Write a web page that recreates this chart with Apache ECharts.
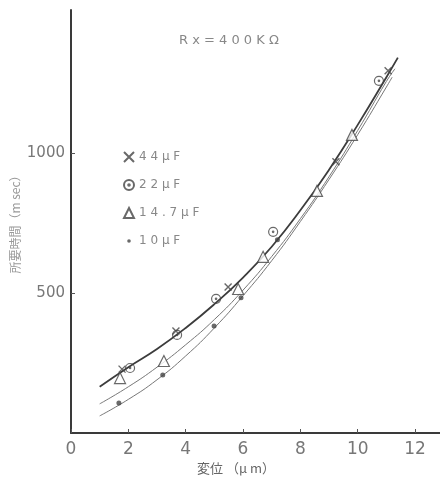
<!DOCTYPE html>
<html>
<head>
<meta charset="UTF-8">
<title>変位と所要時間</title>
<script src="https://cdn.jsdelivr.net/npm/echarts@6/dist/echarts.min.js"></script>
<style>
  html, body { margin: 0; padding: 0; background: #fff; }
  #main { width: 440px; height: 484px; }
</style>
</head>
<body>
<div id="main"></div>
<script>
// 測定点 [変位 μm, 所要時間 msec]
var pts44 = [[1.78, 228], [3.66, 364], [5.48, 521], [9.24, 968], [11.06, 1293]];
var pts22 = [[2.06, 232], [3.70, 350], [5.06, 479], [7.05, 718], [10.74, 1257]];
var pts147 = [[1.71, 196], [3.24, 257], [5.83, 514], [6.70, 629], [8.58, 864], [9.80, 1064]];
var pts10 = [[1.67, 107], [3.20, 207], [4.99, 382], [5.93, 483], [7.20, 690]];

// 曲線 (読み取り値)
var curveTop = [[1, 165], [2, 235], [3, 300], [4, 375], [5, 460], [6, 555], [7, 665], [8, 795], [9, 940], [10, 1100], [11, 1270], [11.4, 1340]];
var curveMid = [[1, 104], [2, 165], [3, 235], [4, 315], [5, 405], [6, 510], [7, 630], [8, 765], [9, 915], [10, 1080], [11, 1255], [11.3, 1300]];
var curveLow = [[1, 61], [2, 120], [3, 190], [4, 275], [5, 375], [6, 490], [7, 615], [8, 755], [9, 905], [10, 1065], [11, 1235], [11.2, 1270]];

var legendNames = ['4 4 μ F', '2 2 μ F', '1 4 . 7 μ F', '1 0 μ F'];
var xTicks = [0, 2, 4, 6, 8, 10, 12];
var yTicks = [500, 1000];

var crossPath = 'path://M0,0L10,10M10,0L0,10';
var dotCirclePath = 'path://M10,5A5,5,0,1,1,0,5A5,5,0,1,1,10,5ZM5.8,5A0.8,0.8,0,1,1,4.2,5A0.8,0.8,0,1,1,5.8,5Z';
// 凡例用の小さい点 (外枠の見えない線で大きさを合わせる)
var smallDotPath = 'path://M0,0L0,0M10,10L10,10M5,3.2A1.8,1.8,0,1,1,5,6.8A1.8,1.8,0,1,1,5,3.2Z';

var myChart = echarts.init(document.getElementById('main'));

var option = {
    animation: false,
    backgroundColor: '#fff',
    grid: { left: 71, right: 0, top: 10, bottom: 51, outerBoundsMode: 'none', containLabel: false },
    xAxis: {
        type: 'value', min: 0, max: 12.87,
        axisLine: { lineStyle: { color: '#3a3a3a', width: 2 } },
        axisTick: { inside: true, length: 4, customValues: xTicks, lineStyle: { color: '#555' } },
        axisLabel: { customValues: xTicks, fontSize: 17, color: '#777', margin: 8, fontFamily: 'DejaVu Sans' },
        splitLine: { show: false }
    },
    yAxis: {
        type: 'value', min: 0, max: 1510,
        axisLine: { show: true, lineStyle: { color: '#3a3a3a', width: 2 } },
        axisTick: { show: true, inside: true, length: 4, customValues: yTicks, lineStyle: { color: '#555' } },
        axisLabel: { customValues: yTicks, fontSize: 15, color: '#777', margin: 6, fontFamily: 'DejaVu Sans',
                     formatter: function (v) { return String(v); } },
        splitLine: { show: false },
        name: '所要時間（m sec）', nameLocation: 'middle', nameRotate: 90, nameGap: 50, nameMoveOverlap: false,
        nameTextStyle: { fontSize: 12, color: '#999', fontFamily: 'Noto Sans CJK JP' }
    },
    legend: {
        data: [
            { name: legendNames[0] },
            { name: legendNames[1] },
            { name: legendNames[2] },
            { name: legendNames[3], icon: smallDotPath, itemStyle: { color: '#444', borderWidth: 0 } }
        ],
        orient: 'vertical', left: 118, top: 146,
        itemWidth: 10, itemHeight: 10, itemGap: 16,
        textStyle: { fontSize: 12, color: '#888', fontFamily: 'DejaVu Sans' }
    },
    graphic: [
        { type: 'text', left: 179, top: 34, style: { text: 'R x = 4 0 0 K Ω', fontSize: 13, fill: '#888', fontFamily: 'DejaVu Sans' } },
        { type: 'text', left: 197, top: 462, style: { text: '変位 （μ m）', fontSize: 13, fill: '#666', fontFamily: 'Noto Sans CJK JP' } }
    ],
    series: [
        { type: 'line', data: curveTop, smooth: true, symbol: 'none', lineStyle: { color: '#3c3c3c', width: 1.8 }, z: 1 },
        { type: 'line', data: curveMid, smooth: true, symbol: 'none', lineStyle: { color: '#777', width: 1 }, z: 1 },
        { type: 'line', data: curveLow, smooth: true, symbol: 'none', lineStyle: { color: '#777', width: 1 }, z: 1 },
        { name: legendNames[0], type: 'scatter', data: pts44, symbol: crossPath, symbolSize: 7,
          itemStyle: { color: 'transparent', borderColor: '#444', borderWidth: 1.4 }, z: 3 },
        { name: legendNames[1], type: 'scatter', data: pts22, symbol: dotCirclePath, symbolSize: 9,
          itemStyle: { color: 'transparent', borderColor: '#444', borderWidth: 1.2 }, z: 3 },
        { name: legendNames[2], type: 'scatter', data: pts147, symbol: 'triangle', symbolSize: 11,
          itemStyle: { color: '#fff', borderColor: '#444', borderWidth: 1.2 }, z: 3 },
        { name: legendNames[3], type: 'scatter', data: pts10, symbol: 'circle', symbolSize: 5,
          itemStyle: { color: '#444' }, z: 3 }
    ]
};
myChart.setOption(option);
</script>
</body>
</html>
